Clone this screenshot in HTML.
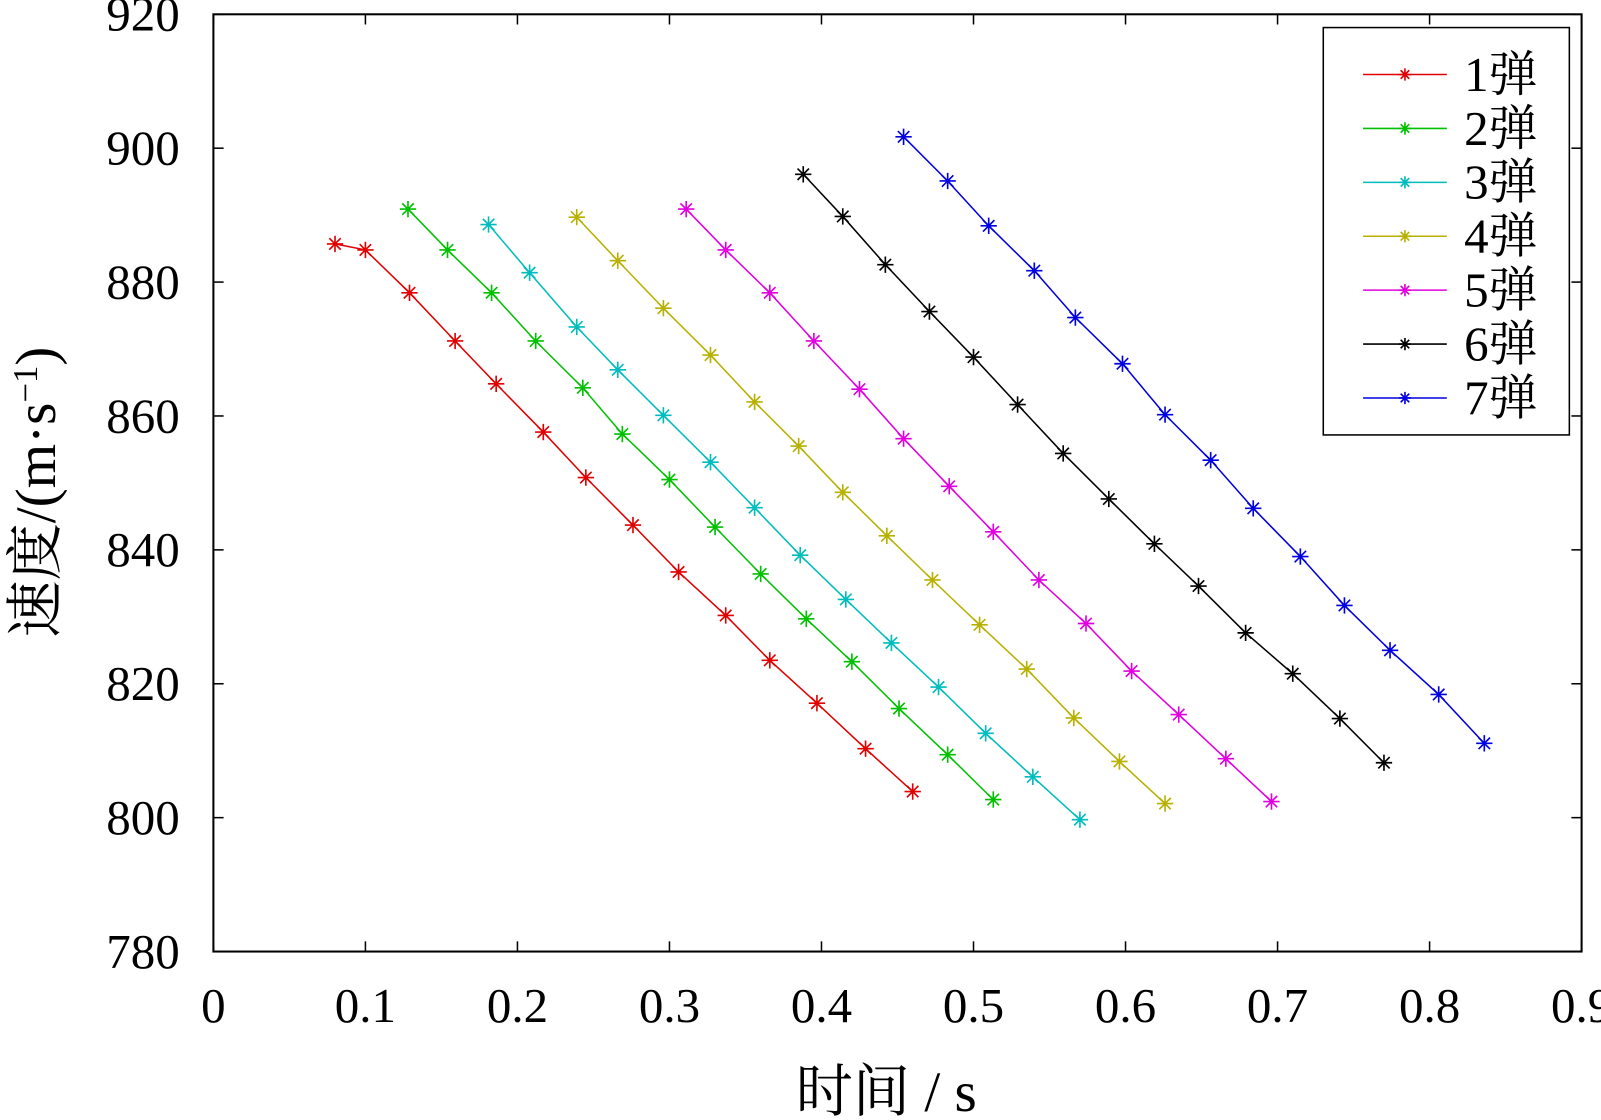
<!DOCTYPE html>
<html><head><meta charset="utf-8"><style>
html,body{margin:0;padding:0;background:#fff;}
svg{display:block;font-family:"Liberation Serif","Noto Serif CJK SC",serif;}
</style></head><body>
<svg id="chart" width="1601" height="1120" viewBox="0 0 1568 1097" preserveAspectRatio="none" xmlns="http://www.w3.org/2000/svg">
<rect x="209" y="14" width="1340" height="918" fill="none" stroke="#000" stroke-width="2"/>
<g id="ticks"></g>
<g id="series"></g>
<text x="868" y="1088" font-size="56" text-anchor="middle">时间 / s</text>
<text transform="translate(54,482) rotate(-90)" font-size="56" text-anchor="middle">速度/(m·s<tspan font-size="34" dy="-18">−1</tspan><tspan dy="18">)</tspan></text>
<g id="legend">
<rect x="1296" y="27" width="241" height="399" fill="#fff" stroke="#000" stroke-width="1.5"/>
</g>
</svg>
<script>
const xTicks=[0,0.1,0.2,0.3,0.4,0.5,0.6,0.7,0.8,0.9];
const yTicks=[780,800,820,840,860,880,900,920];
const seriesNames=["1弹","2弹","3弹","4弹","5弹","6弹","7弹"];
const seriesColors=["#e00000","#00c000","#00bcbc","#b8b000","#e000e0","#000000","#0000e0"];
const t1=[0.080,0.100,0.129,0.159,0.186,0.217,0.245,0.276,0.306,0.337,0.366,0.397,0.429,0.460];
const v1=[885.7,884.8,878.4,871.2,864.8,857.6,850.8,843.7,836.7,830.2,823.5,817.1,810.3,803.9];
const t2=[0.128,0.154,0.183,0.212,0.243,0.269,0.300,0.330,0.360,0.390,0.420,0.451,0.483,0.513];
const v2=[890.9,884.8,878.4,871.2,864.2,857.3,850.5,843.4,836.4,829.7,823.3,816.3,809.4,802.7];
const t3=[0.181,0.208,0.239,0.266,0.296,0.327,0.356,0.386,0.416,0.446,0.477,0.508,0.539,0.570];
const v3=[888.6,881.4,873.3,866.9,860.1,853.1,846.3,839.2,832.6,826.1,819.5,812.6,806.1,799.7];
const t4=[0.239,0.266,0.296,0.327,0.356,0.385,0.414,0.443,0.473,0.504,0.535,0.566,0.596,0.626];
const v4=[889.7,883.2,876.1,869.1,862.1,855.5,848.6,842.1,835.5,828.8,822.2,814.9,808.4,802.1];
const t5=[0.311,0.337,0.366,0.395,0.425,0.454,0.484,0.513,0.543,0.574,0.604,0.635,0.666,0.696];
const v5=[890.9,884.8,878.4,871.2,864.0,856.6,849.5,842.7,835.5,829.0,821.9,815.4,808.8,802.4];
const t6=[0.388,0.414,0.442,0.471,0.500,0.529,0.559,0.589,0.619,0.648,0.679,0.710,0.741,0.770];
const v6=[896.1,889.8,882.6,875.6,868.8,861.7,854.4,847.6,840.9,834.6,827.6,821.5,814.8,808.2];
const t7=[0.454,0.483,0.510,0.540,0.567,0.598,0.626,0.656,0.684,0.715,0.744,0.774,0.806,0.836];
const v7=[901.7,895.1,888.4,881.7,874.7,867.8,860.2,853.4,846.2,839.0,831.7,825.0,818.4,811.1];
const allT=[t1,t2,t3,t4,t5,t6,t7];
const allV=[v1,v2,v3,v4,v5,v6,v7];

const NS="http://www.w3.org/2000/svg";
const X0=209,X1=1549,Y0=932,Y1=14;
function sx(t){return X0+(t-0)/(0.9-0)*(X1-X0);}
function sy(v){return Y0-(v-780)/(920-780)*(Y0-Y1);}
function mk(tag,attrs,parent){const e=document.createElementNS(NS,tag);for(const k in attrs)e.setAttribute(k,attrs[k]);parent.appendChild(e);return e;}

const tg=document.getElementById('ticks');
xTicks.forEach(t=>{
  const x=sx(t);
  const l1=mk('line',{x1:x,y1:Y0,x2:x,y2:Y0-10,stroke:'#000','stroke-width':1.5},tg);
  
  
  const l2=mk('line',{x1:x,y1:Y1,x2:x,y2:Y1+10,stroke:'#000','stroke-width':1.5},tg);
  
  
  const tx=mk('text',{x:x,y:1001,'font-size':48,'text-anchor':'middle'},tg);
  tx.textContent=String(t);
  
  
});
yTicks.forEach(v=>{
  const y=sy(v);
  const l1=mk('line',{x1:X0,y1:y,x2:X0+10,y2:y,stroke:'#000','stroke-width':1.5},tg);
  
  
  const l2=mk('line',{x1:X1,y1:y,x2:X1-10,y2:y,stroke:'#000','stroke-width':1.5},tg);
  
  
  const tx=mk('text',{x:176,y:y+16,'font-size':48,'text-anchor':'end'},tg);
  tx.textContent=String(v);
  
  
});

function star(g,x,y,r,c){
  const d=`M${x-r},${y}H${x+r}M${x},${y-r}V${y+r}M${x-r*0.7},${y-r*0.7}L${x+r*0.7},${y+r*0.7}M${x-r*0.7},${y+r*0.7}L${x+r*0.7},${y-r*0.7}`;
  const p=mk('path',{d:d,stroke:c,'stroke-width':1.6,fill:'none'},g);
  
  
}

const sg=document.getElementById('series');
const lg=document.getElementById('legend');
allT.forEach((ts,i)=>{
  const c=seriesColors[i];
  const g=mk('g',{},sg);
  
  
  const pts=ts.map((t,j)=>sx(t).toFixed(1)+','+sy(allV[i][j]).toFixed(1)).join(' ');
  const pl=mk('polyline',{points:pts,fill:'none',stroke:c,'stroke-width':1.5},g);
  
  
  ts.forEach((t,j)=>star(g,sx(t),sy(allV[i][j]),8,c));
  const ly=73+i*52.8;
  const e=mk('g',{},lg);
  
  
  mk('line',{x1:1335,y1:ly,x2:1417,y2:ly,stroke:c,'stroke-width':1.5},e);
  star(e,1376,ly,6,c);
  const tx=mk('text',{x:1434,y:ly+16,'font-size':48},e);
  tx.textContent=seriesNames[i];
  
  
});
</script>
</body></html>
